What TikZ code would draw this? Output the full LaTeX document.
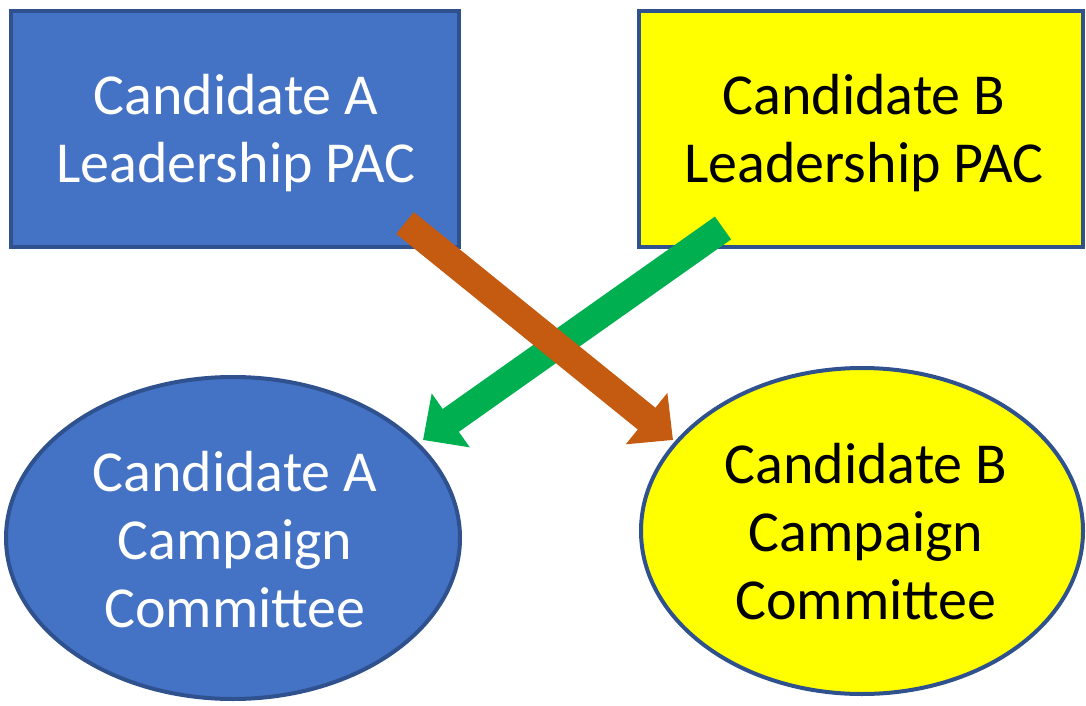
\documentclass[tikz,border=0pt]{standalone}
\usepackage{fontspec}
\setmainfont{Carlito}
\usetikzlibrary{arrows.meta}
\definecolor{fillblue}{HTML}{4472C4}
\definecolor{edgeblue}{HTML}{2F528F}
\definecolor{fillyellow}{HTML}{FFFF00}
\definecolor{arrorange}{HTML}{C55A11}
\definecolor{arredge}{HTML}{B8403A}
\definecolor{arrgreen}{HTML}{00B050}
\tikzset{
  box/.style={align=center, inner sep=0pt,
    font=\fontsize{58}{68}\selectfont},
  oval/.style={align=center, inner sep=0pt,
    font=\fontsize{58}{68}\selectfont},
  fat/.style={line width=28pt, -{Triangle[width=64pt,length=34pt]}},
}
\begin{document}
\begin{tikzpicture}[x=1pt,y=-1pt]
\useasboundingbox (0,0) rectangle (1086,706);
% boxes
\draw[edgeblue, line width=4pt, fill=fillblue] (11,11) rectangle (459,247);
\node[box, text=white] (pacA) at (236,133) {Candidate A\\Leadership PAC};
\draw[edgeblue, line width=4pt, fill=fillyellow] (639,11) rectangle (1083,247);
\node[box, text=black] (pacB) at (864,133) {Candidate B\\Leadership PAC};
% ellipses
\draw[edgeblue, line width=4pt, fill=fillblue] (233,538) ellipse [x radius=227, y radius=161];
\node[oval, text=white] (camA) at (235,540) {Candidate A\\Campaign\\Committee};
\draw[edgeblue, line width=4pt, fill=fillyellow] (862,531) ellipse [x radius=221, y radius=163];
\node[oval, text=black] (camB) at (866,532) {Candidate B\\Campaign\\Committee};
% arrows
\coordinate (gS) at (723,228);
\coordinate (gT) at (423,440);
\coordinate (oS) at (405,223);
\coordinate (oT) at (673,440);
\draw[fat, arrgreen] (gS) -- (gT);
\draw[fat, arrorange] (oS) -- (oT);
\end{tikzpicture}
\end{document}
